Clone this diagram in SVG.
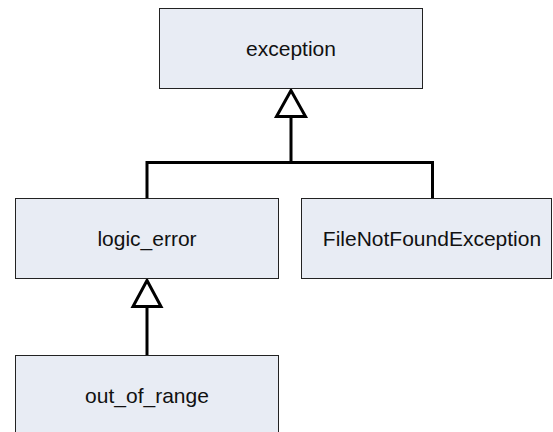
<svg xmlns="http://www.w3.org/2000/svg" width="553" height="432" viewBox="0 0 553 432">
<style>
.box{fill:#E8ECF4;stroke:#222;stroke-width:1}
.lbl{font-family:"Liberation Sans",Arial,sans-serif;font-size:21px;fill:#111;text-anchor:middle}
.conn{fill:none;stroke:#000;stroke-width:3}
.tri{fill:#fff;stroke:#000;stroke-width:3;stroke-linejoin:miter}
</style>
<rect width="553" height="432" fill="#fff"/>
<g id="connectors">
<path class="conn" d="M291,116.5 V162.5 M147,162.5 H432.5 M147,161 V198.5 M432.5,161 V198.5"/>
<polygon class="tri" points="291,90.5 276.5,116.5 305.5,116.5"/>
<path class="conn" d="M147,306.5 V356"/>
<polygon class="tri" points="147,280.5 133,306.5 161,306.5"/>
</g>
<g id="exception">
<rect class="box" x="159.5" y="8.5" width="263" height="80"/>
<text class="lbl" x="291" y="55.5">exception</text>
</g>
<g id="logic_error">
<rect class="box" x="15.5" y="198.5" width="263" height="80"/>
<text class="lbl" x="147" y="245.5">logic_error</text>
</g>
<g id="FileNotFoundException">
<rect class="box" x="301.5" y="198.5" width="250" height="80"/>
<text class="lbl" x="432" y="245.5">FileNotFoundException</text>
</g>
<g id="out_of_range">
<rect class="box" x="15.5" y="355.5" width="263" height="80"/>
<text class="lbl" x="147" y="402.5">out_of_range</text>
</g>
</svg>
